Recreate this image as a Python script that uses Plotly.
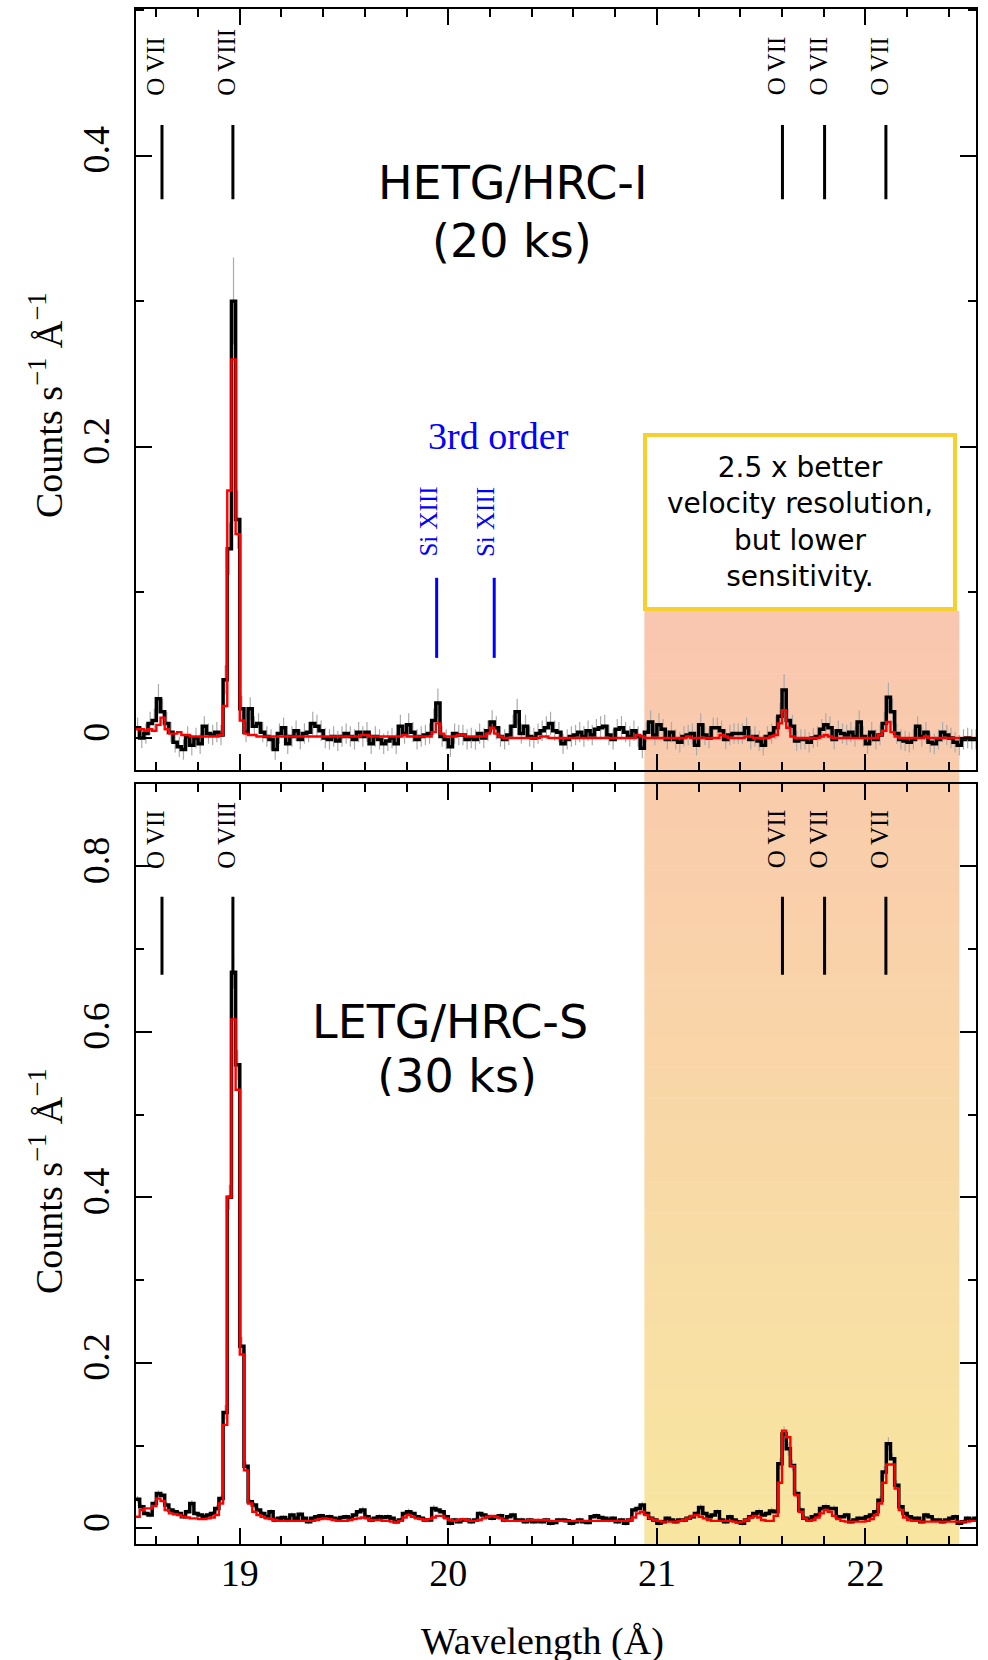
import numpy as np
import plotly.graph_objects as go

# ---------------------------------------------------------------------------
# Spectra: counts s^-1 A^-1 in 0.02 A bins starting at 18.50 A
# ---------------------------------------------------------------------------
BIN_START = 18.50
BIN_WIDTH = 0.02

hetg_counts = [
    0.007, 0.000, 0.003, 0.010, 0.012, 0.027, 0.018, 0.010, 0.004, -0.003,
    -0.006, -0.008, 0.001, -0.005, 0.000, -0.004, 0.008, 0.003, 0.002, 0.004,
    0.002, 0.040, 0.130, 0.300, 0.150, 0.020, 0.004, 0.020, 0.008, 0.010,
    0.004, 0.001, -0.001, -0.008, 0.003, 0.007, -0.004, 0.001, 0.005, -0.001,
    0.003, 0.004, 0.010, 0.008, 0.005, 0.000, -0.001, 0.001, -0.002, 0.001,
    0.003, 0.001, -0.001, 0.004, 0.001, 0.004, -0.004, 0.001, -0.001, -0.004,
    -0.002, 0.000, -0.004, 0.008, 0.003, 0.009, 0.004, -0.001, 0.001, 0.002,
    0.003, 0.012, 0.024, 0.001, -0.001, -0.006, 0.003, 0.002, 0.002, -0.001,
    0.000, -0.001, 0.003, 0.000, 0.005, 0.011, 0.007, 0.001, -0.001, 0.002,
    0.008, 0.018, 0.003, 0.008, 0.001, 0.000, 0.003, 0.005, 0.007, 0.010,
    0.005, 0.004, -0.004, -0.001, 0.001, 0.002, 0.004, 0.001, 0.005, 0.002,
    0.006, 0.007, 0.008, 0.002, -0.001, 0.006, 0.007, 0.004, 0.001, 0.005,
    0.001, -0.007, 0.004, 0.011, 0.002, 0.009, 0.006, -0.001, 0.004, -0.001,
    -0.003, 0.001, 0.002, 0.003, -0.005, 0.009, 0.002, 0.000, 0.007, 0.007,
    0.005, -0.001, 0.002, 0.003, 0.003, 0.003, 0.007, -0.001, 0.001, -0.002,
    -0.005, 0.001, 0.003, 0.007, 0.015, 0.033, 0.012, 0.008, -0.002, -0.001,
    -0.001, -0.003, 0.000, 0.001, 0.006, 0.009, 0.007, -0.001, 0.005, 0.003,
    0.002, 0.004, 0.001, 0.011, 0.001, -0.004, 0.004, -0.001, 0.002, 0.010,
    0.028, 0.018, 0.003, -0.001, -0.002, -0.003, -0.001, 0.008, 0.001, 0.004,
    -0.003, -0.004, -0.001, 0.004, 0.002, 0.000, -0.003, -0.005, -0.001, 0.000,
    -0.001, -0.001,
]

hetg_err = [
    0.007, 0.007, 0.007, 0.008, 0.008, 0.010, 0.009, 0.008, 0.007, 0.007,
    0.007, 0.007, 0.007, 0.007, 0.007, 0.007, 0.007, 0.007, 0.007, 0.007,
    0.007, 0.010, 0.018, 0.030, 0.020, 0.009, 0.007, 0.008, 0.007, 0.007,
    0.007, 0.007, 0.007, 0.007, 0.007, 0.007, 0.007, 0.007, 0.007, 0.007,
    0.007, 0.007, 0.008, 0.008, 0.007, 0.007, 0.007, 0.007, 0.007, 0.007,
    0.007, 0.007, 0.007, 0.007, 0.007, 0.007, 0.007, 0.007, 0.007, 0.007,
    0.007, 0.007, 0.007, 0.008, 0.007, 0.008, 0.007, 0.007, 0.007, 0.007,
    0.007, 0.008, 0.010, 0.007, 0.007, 0.007, 0.007, 0.007, 0.007, 0.007,
    0.007, 0.007, 0.007, 0.007, 0.007, 0.008, 0.008, 0.007, 0.007, 0.007,
    0.008, 0.009, 0.007, 0.008, 0.007, 0.007, 0.007, 0.007, 0.008, 0.008,
    0.007, 0.007, 0.007, 0.007, 0.007, 0.007, 0.007, 0.007, 0.007, 0.007,
    0.007, 0.008, 0.008, 0.007, 0.007, 0.007, 0.008, 0.007, 0.007, 0.007,
    0.007, 0.007, 0.007, 0.008, 0.007, 0.008, 0.007, 0.007, 0.007, 0.007,
    0.007, 0.007, 0.007, 0.007, 0.007, 0.008, 0.007, 0.007, 0.007, 0.007,
    0.007, 0.007, 0.007, 0.007, 0.007, 0.007, 0.007, 0.007, 0.007, 0.007,
    0.007, 0.007, 0.007, 0.008, 0.009, 0.011, 0.008, 0.008, 0.007, 0.007,
    0.007, 0.007, 0.007, 0.007, 0.007, 0.008, 0.008, 0.007, 0.007, 0.007,
    0.007, 0.007, 0.007, 0.008, 0.007, 0.007, 0.007, 0.007, 0.007, 0.008,
    0.010, 0.009, 0.007, 0.007, 0.007, 0.007, 0.007, 0.007, 0.007, 0.007,
    0.007, 0.007, 0.007, 0.007, 0.007, 0.007, 0.007, 0.007, 0.007, 0.007,
    0.007, 0.007,
]

hetg_model = [
    0.006, 0.006, 0.005, 0.006, 0.005, 0.009, 0.014, 0.006, 0.003, 0.003,
    0.004, 0.002, 0.002, 0.001, 0.001, 0.001, 0.001, 0.001, 0.001, 0.001,
    0.002, 0.022, 0.170, 0.260, 0.140, 0.012, 0.003, 0.002, 0.002, 0.001,
    0.001, 0.001, 0.001, 0.001, 0.001, 0.001, 0.001, 0.001, 0.001, 0.001,
    0.001, 0.001, 0.001, 0.001, 0.001, 0.001, 0.001, 0.001, 0.001, 0.001,
    0.001, 0.001, 0.001, 0.001, 0.002, 0.002, 0.001, 0.001, 0.001, 0.001,
    0.001, 0.001, 0.001, 0.001, 0.002, 0.001, 0.001, 0.001, 0.001, 0.001,
    0.001, 0.004, 0.010, 0.003, 0.001, 0.001, 0.001, 0.002, 0.002, 0.001,
    0.001, 0.001, 0.001, 0.001, 0.003, 0.007, 0.003, 0.001, 0.000, 0.000,
    0.000, 0.000, 0.000, 0.000, 0.000, 0.000, 0.000, 0.001, 0.001, 0.000,
    0.000, 0.000, 0.000, 0.000, 0.000, 0.000, 0.000, 0.000, 0.000, 0.000,
    0.000, 0.000, 0.000, 0.000, 0.000, 0.000, 0.000, 0.000, 0.000, 0.000,
    0.002, 0.001, 0.000, 0.000, 0.000, 0.000, 0.000, 0.000, 0.000, 0.000,
    0.000, 0.000, 0.001, 0.000, 0.000, 0.000, 0.000, 0.000, 0.000, 0.000,
    0.002, 0.001, 0.000, 0.000, 0.000, 0.000, 0.001, 0.001, 0.000, 0.000,
    0.000, 0.000, 0.001, 0.002, 0.010, 0.019, 0.007, 0.001, 0.000, 0.000,
    0.000, 0.000, 0.000, 0.000, 0.001, 0.002, 0.001, 0.000, 0.000, 0.000,
    0.000, 0.000, 0.000, 0.000, 0.000, 0.000, 0.000, 0.000, 0.002, 0.005,
    0.011, 0.004, 0.001, 0.000, 0.000, 0.000, 0.000, 0.000, 0.000, 0.001,
    0.000, 0.000, 0.000, 0.000, 0.000, 0.000, 0.000, 0.000, 0.000, 0.000,
    0.000, 0.000,
]

letg_counts = [
    0.035, 0.026, 0.018, 0.016, 0.030, 0.042, 0.040, 0.028, 0.022, 0.020,
    0.018, 0.014, 0.020, 0.030, 0.018, 0.016, 0.014, 0.016, 0.018, 0.024,
    0.036, 0.140, 0.400, 0.672, 0.560, 0.220, 0.075, 0.032, 0.028, 0.022,
    0.018, 0.014, 0.020, 0.010, 0.012, 0.013, 0.010, 0.016, 0.012, 0.017,
    0.012, 0.008, 0.012, 0.014, 0.015, 0.013, 0.014, 0.012, 0.011, 0.013,
    0.014, 0.012, 0.016, 0.020, 0.022, 0.014, 0.010, 0.012, 0.014, 0.013,
    0.014, 0.012, 0.008, 0.010, 0.018, 0.020, 0.018, 0.014, 0.012, 0.010,
    0.010, 0.024, 0.022, 0.020, 0.014, 0.006, 0.010, 0.008, 0.010, 0.010,
    0.008, 0.010, 0.018, 0.016, 0.014, 0.012, 0.014, 0.015, 0.010, 0.014,
    0.016, 0.010, 0.010, 0.008, 0.010, 0.008, 0.009, 0.008, 0.010, 0.006,
    0.007, 0.010, 0.010, 0.009, 0.006, 0.008, 0.010, 0.008, 0.007, 0.014,
    0.015, 0.013, 0.012, 0.010, 0.012, 0.008, 0.010, 0.006, 0.010, 0.022,
    0.024, 0.028, 0.018, 0.012, 0.010, 0.006, 0.008, 0.012, 0.010, 0.008,
    0.010, 0.010, 0.012, 0.014, 0.018, 0.025, 0.018, 0.014, 0.016, 0.020,
    0.010, 0.008, 0.014, 0.010, 0.008, 0.006, 0.010, 0.014, 0.018, 0.020,
    0.016, 0.018, 0.021, 0.020, 0.078, 0.114, 0.096, 0.076, 0.042, 0.022,
    0.012, 0.010, 0.014, 0.016, 0.024, 0.026, 0.024, 0.024, 0.014, 0.014,
    0.016, 0.008, 0.010, 0.012, 0.012, 0.014, 0.016, 0.020, 0.034, 0.068,
    0.102, 0.084, 0.052, 0.026, 0.018, 0.014, 0.012, 0.012, 0.008, 0.016,
    0.014, 0.010, 0.010, 0.008, 0.010, 0.012, 0.014, 0.006, 0.008, 0.012,
    0.010, 0.012,
]

letg_err = [
    0.004, 0.004, 0.003, 0.003, 0.004, 0.004, 0.004, 0.004, 0.003, 0.003,
    0.003, 0.003, 0.003, 0.004, 0.003, 0.003, 0.003, 0.003, 0.003, 0.004,
    0.004, 0.009, 0.015, 0.020, 0.018, 0.011, 0.006, 0.004, 0.004, 0.003,
    0.003, 0.003, 0.003, 0.003, 0.003, 0.003, 0.003, 0.003, 0.003, 0.003,
    0.003, 0.003, 0.003, 0.003, 0.003, 0.003, 0.003, 0.003, 0.003, 0.003,
    0.003, 0.003, 0.003, 0.003, 0.004, 0.003, 0.003, 0.003, 0.003, 0.003,
    0.003, 0.003, 0.003, 0.003, 0.003, 0.004, 0.003, 0.003, 0.003, 0.003,
    0.003, 0.004, 0.004, 0.003, 0.003, 0.003, 0.003, 0.003, 0.003, 0.003,
    0.003, 0.003, 0.003, 0.003, 0.003, 0.003, 0.003, 0.003, 0.003, 0.003,
    0.003, 0.003, 0.003, 0.003, 0.003, 0.003, 0.003, 0.003, 0.003, 0.003,
    0.003, 0.003, 0.003, 0.003, 0.003, 0.003, 0.003, 0.003, 0.003, 0.003,
    0.003, 0.003, 0.003, 0.003, 0.003, 0.003, 0.003, 0.003, 0.003, 0.004,
    0.004, 0.004, 0.003, 0.003, 0.003, 0.003, 0.003, 0.003, 0.003, 0.003,
    0.003, 0.003, 0.003, 0.003, 0.003, 0.004, 0.003, 0.003, 0.003, 0.003,
    0.003, 0.003, 0.003, 0.003, 0.003, 0.003, 0.003, 0.003, 0.003, 0.004,
    0.003, 0.003, 0.004, 0.004, 0.007, 0.009, 0.008, 0.007, 0.005, 0.004,
    0.003, 0.003, 0.003, 0.003, 0.004, 0.004, 0.004, 0.004, 0.003, 0.003,
    0.003, 0.003, 0.003, 0.003, 0.003, 0.003, 0.003, 0.004, 0.005, 0.007,
    0.008, 0.007, 0.006, 0.004, 0.003, 0.003, 0.003, 0.003, 0.003, 0.003,
    0.003, 0.003, 0.003, 0.003, 0.003, 0.003, 0.003, 0.003, 0.003, 0.003,
    0.003, 0.003,
]

letg_model = [
    0.014, 0.022, 0.024, 0.024, 0.027, 0.036, 0.033, 0.022, 0.018, 0.017,
    0.016, 0.014, 0.013, 0.012, 0.012, 0.011, 0.011, 0.012, 0.013, 0.016,
    0.030, 0.125, 0.400, 0.615, 0.530, 0.210, 0.070, 0.030, 0.020, 0.016,
    0.014, 0.012, 0.011, 0.010, 0.009, 0.009, 0.009, 0.009, 0.009, 0.009,
    0.009, 0.009, 0.009, 0.010, 0.011, 0.012, 0.011, 0.010, 0.009, 0.009,
    0.009, 0.010, 0.011, 0.012, 0.013, 0.012, 0.010, 0.010, 0.010, 0.009,
    0.009, 0.008, 0.007, 0.009, 0.013, 0.016, 0.014, 0.012, 0.011, 0.010,
    0.011, 0.013, 0.015, 0.015, 0.012, 0.010, 0.009, 0.010, 0.011, 0.010,
    0.009, 0.009, 0.010, 0.012, 0.014, 0.015, 0.014, 0.012, 0.010, 0.009,
    0.009, 0.009, 0.009, 0.009, 0.010, 0.010, 0.010, 0.010, 0.010, 0.009,
    0.009, 0.009, 0.009, 0.009, 0.009, 0.009, 0.009, 0.009, 0.009, 0.009,
    0.009, 0.009, 0.009, 0.009, 0.009, 0.009, 0.009, 0.009, 0.010, 0.013,
    0.018, 0.020, 0.016, 0.012, 0.010, 0.009, 0.008, 0.008, 0.008, 0.008,
    0.009, 0.010, 0.012, 0.015, 0.016, 0.014, 0.012, 0.010, 0.009, 0.009,
    0.009, 0.009, 0.009, 0.008, 0.007, 0.008, 0.010, 0.013, 0.015, 0.013,
    0.010, 0.009, 0.009, 0.015, 0.055, 0.118, 0.110, 0.075, 0.040, 0.020,
    0.012, 0.009, 0.010, 0.013, 0.018, 0.022, 0.020, 0.015, 0.011, 0.009,
    0.008, 0.008, 0.008, 0.008, 0.008, 0.009, 0.011, 0.016, 0.030, 0.055,
    0.077, 0.077, 0.048, 0.022, 0.013, 0.010, 0.009, 0.009, 0.008, 0.008,
    0.008, 0.008, 0.008, 0.008, 0.008, 0.008, 0.008, 0.008, 0.008, 0.008,
    0.009, 0.009,
]

# Line identifications
oxygen_ids = ["O VII", "O VIII", "O VII", "O VII", "O VII"]
oxygen_wl = [18.627, 18.967, 21.602, 21.804, 22.098]
silicon_ids = ["Si XIII", "Si XIII"]
silicon_wl = [19.944, 20.220]

# Axes
x_range = [18.5, 22.53]
x_ticks = [19, 20, 21, 22]
hetg_range = [-0.022, 0.501]
letg_range = [-0.019, 0.900]
hetg_yticks = [0, 0.2, 0.4]
letg_yticks = [0, 0.2, 0.4, 0.6, 0.8]

# Wavelength band highlighted across both panels
band = [20.94, 22.45]

# ---------------------------------------------------------------------------
W, H = 988, 1660
SERIF = "Liberation Serif"
SANS = "DejaVu Sans"


def px_x(p):
    return p / W


def px_y(p):
    return 1 - p / H


X_DOM = [px_x(135.5), px_x(976)]
TOP_DOM = [px_y(770), px_y(8.5)]
BOT_DOM = [px_y(1544), px_y(783.5)]


def step_xy(vals):
    edges = BIN_START + BIN_WIDTH * np.arange(len(vals) + 1)
    return edges, list(vals) + [vals[-1]]


def centers(vals):
    return BIN_START + BIN_WIDTH * (np.arange(len(vals)) + 0.5)


fig = go.Figure()

for xa, ya, counts, err, model in [
    ("x", "y", hetg_counts, hetg_err, hetg_model),
    ("x2", "y2", letg_counts, letg_err, letg_model),
]:
    fig.add_trace(go.Scatter(
        x=centers(counts), y=counts, mode="markers",
        marker=dict(size=2, color="rgba(0,0,0,0)"),
        error_y=dict(type="data", array=err, visible=True, color="#ABABAB",
                     thickness=1.2, width=0),
        xaxis=xa, yaxis=ya, hoverinfo="skip", showlegend=False,
    ))
    sx, sy = step_xy(counts)
    fig.add_trace(go.Scatter(
        x=sx, y=sy, mode="lines", line=dict(color="black", width=3.5, shape="hv"),
        xaxis=xa, yaxis=ya, showlegend=False,
    ))
    mx, my = step_xy(model)
    fig.add_trace(go.Scatter(
        x=mx, y=my, mode="lines", line=dict(color="#FF0000", width=2.4, shape="hv"),
        xaxis=xa, yaxis=ya, showlegend=False,
    ))

# Second line of the LETG title, drawn on its own hidden axes so that the
# subplot clip path trims the bottom of the glyphs
CLIP_TOP, CLIP_BOT = 1036, 1096
fig.add_trace(go.Scatter(
    x=[(457 - 135.5) / (976 - 135.5)], y=[(CLIP_BOT - 1080) / (CLIP_BOT - CLIP_TOP)],
    mode="text", text=["(30 ks)"], textposition="middle center",
    textfont=dict(family=SANS, size=46, color="black"),
    cliponaxis=True, xaxis="x3", yaxis="y3", hoverinfo="skip", showlegend=False,
))

# Highlight band as a vertical colour gradient (salmon -> pale yellow)
shapes = []
band_top, band_bot = 611, 1544
c_top = np.array([249, 198, 175])
c_bot = np.array([248, 230, 160])
n_strips = 90
for i in range(n_strips):
    t = (i + 0.5) / n_strips
    c = (1 - t) * c_top + t * c_bot
    y0 = band_top + (band_bot - band_top) * i / n_strips
    y1 = band_top + (band_bot - band_top) * (i + 1) / n_strips
    shapes.append(dict(
        type="rect", xref="x2", yref="paper", x0=band[0], x1=band[1],
        y0=px_y(y1 + 0.6), y1=px_y(y0), layer="below", line=dict(width=0),
        fillcolor="rgb(%d,%d,%d)" % tuple(int(round(v)) for v in c),
    ))

# Line-identification ticks
for wl in oxygen_wl:
    shapes.append(dict(type="line", xref="x", yref="y", x0=wl, x1=wl,
                       y0=0.370, y1=0.421, line=dict(color="black", width=3)))
    shapes.append(dict(type="line", xref="x2", yref="y2", x0=wl, x1=wl,
                       y0=0.669, y1=0.763, line=dict(color="black", width=3)))
for wl in silicon_wl:
    shapes.append(dict(type="line", xref="x", yref="y", x0=wl, x1=wl,
                       y0=0.055, y1=0.110, line=dict(color="#0000FF", width=3)))

annotations = []
for name, wl in zip(oxygen_ids, oxygen_wl):
    annotations.append(dict(x=wl, y=0.440, xref="x", yref="y", text=name,
                            textangle=-90, showarrow=False, xanchor="center",
                            yanchor="bottom", xshift=-6,
                            font=dict(family=SERIF, size=25, color="black")))
    annotations.append(dict(x=wl, y=0.795, xref="x2", yref="y2", text=name,
                            textangle=-90, showarrow=False, xanchor="center",
                            yanchor="bottom", xshift=-6,
                            font=dict(family=SERIF, size=25, color="black")))
for name, wl in zip(silicon_ids, silicon_wl):
    annotations.append(dict(x=wl, y=0.123, xref="x", yref="y", text=name,
                            textangle=-90, showarrow=False, xanchor="center",
                            yanchor="bottom", xshift=-8,
                            font=dict(family=SERIF, size=25, color="#0000FF")))


def paper_text(xp, yp, text, font, **kw):
    d = dict(x=px_x(xp), y=px_y(yp), xref="paper", yref="paper", text=text,
             showarrow=False, xanchor="center", yanchor="middle", font=font)
    d.update(kw)
    return d


annotations.append(paper_text(498, 436, "3rd order",
                              dict(family=SERIF, size=38, color="#0000FF")))

# Panel titles
annotations.append(paper_text(512, 183, "HETG/HRC-I",
                              dict(family=SANS, size=46, color="black")))
annotations.append(paper_text(512, 241, "(20 ks)",
                              dict(family=SANS, size=46, color="black")))
annotations.append(paper_text(450, 1022, "LETG/HRC-S",
                              dict(family=SANS, size=46, color="black")))

# Boxed note
annotations.append(paper_text(
    800, 522,
    "2.5 x better<br>velocity resolution,<br>but lower<br>sensitivity.",
    dict(family=SANS, size=28, color="black"),
    align="center", width=306, height=170, borderpad=0, borderwidth=4,
    bordercolor="#F5D02E", bgcolor="white"))

# Axis titles
ytitle = "Counts s<sup>\u22121</sup> \u00c5<sup>\u22121</sup>"
annotations.append(paper_text(46, 405, ytitle,
                              dict(family=SERIF, size=38, color="black"),
                              textangle=-90))
annotations.append(paper_text(46, 1181, ytitle,
                              dict(family=SERIF, size=38, color="black"),
                              textangle=-90))
annotations.append(paper_text(542, 1641, "Wavelength (\u00c5)",
                              dict(family=SERIF, size=38, color="black")))

tickfont = dict(family=SERIF, size=38, color="black")
axis_common = dict(
    showline=True, linewidth=2, linecolor="black", mirror="ticks",
    ticks="inside", ticklen=16, tickwidth=1.5, tickcolor="black",
    showgrid=False, zeroline=False, tickfont=tickfont,
)
x_common = dict(axis_common, range=x_range, tickvals=x_ticks,
                minor=dict(dtick=0.2, tick0=18.0, ticks="inside", ticklen=8,
                           tickwidth=1.5, tickcolor="black", showgrid=False))
y_minor = dict(dtick=0.1, tick0=0, ticks="inside", ticklen=8,
               tickwidth=1.5, tickcolor="black", showgrid=False)

fig.update_layout(
    width=W, height=H,
    margin=dict(l=0, r=0, t=0, b=0),
    paper_bgcolor="white", plot_bgcolor="rgba(0,0,0,0)",
    showlegend=False,
    xaxis=dict(x_common, domain=X_DOM, anchor="y", showticklabels=False),
    yaxis=dict(axis_common, domain=TOP_DOM, anchor="x", range=hetg_range,
               tickvals=hetg_yticks, tickangle=-90, ticklabelstandoff=9,
               minor=y_minor),
    xaxis2=dict(x_common, domain=X_DOM, anchor="y2", showticklabels=True,
                ticklabelstandoff=-6),
    yaxis2=dict(axis_common, domain=BOT_DOM, anchor="x2", range=letg_range,
                tickvals=letg_yticks, tickangle=-90, ticklabelstandoff=9,
                minor=y_minor),
    xaxis3=dict(domain=X_DOM, range=[0, 1], visible=False, fixedrange=True,
                anchor="y3"),
    yaxis3=dict(domain=[px_y(CLIP_BOT), px_y(CLIP_TOP)], range=[0, 1],
                visible=False, fixedrange=True, anchor="x3"),
    shapes=shapes,
    annotations=annotations,
)

fig.write_html("out.html")
